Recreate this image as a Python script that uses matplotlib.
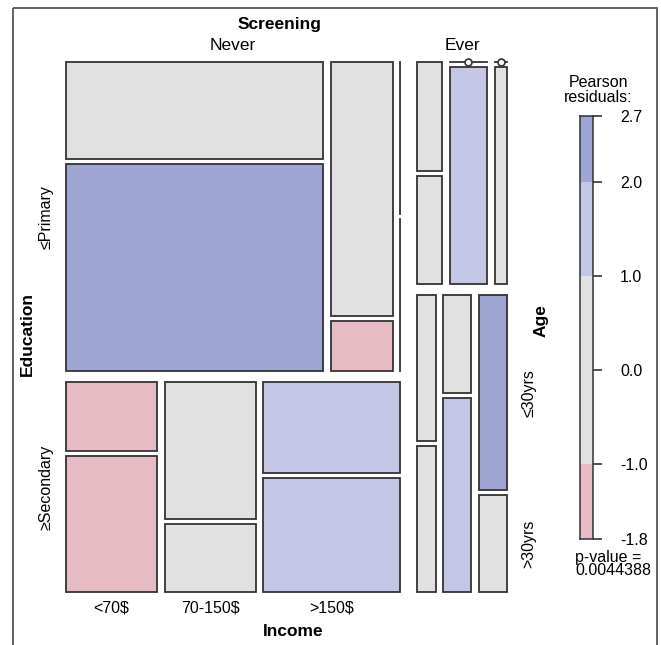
import numpy as np
import matplotlib.pyplot as plt
from matplotlib.patches import Rectangle

plt.rcParams['font.family'] = ['Liberation Sans', 'DejaVu Sans']

screening = ['Never', 'Ever']
education = ['≤Primary', '≥Secondary']
income = ['<70$', '70-150$', '>150$']
age = ['≤30yrs', '>30yrs']

# counts, rows = income, cols = age
never_primary = [[8, 17], [5, 1], [0, 0]]
never_secondary = [[2, 4], [4, 2], [4, 5]]
ever_primary = [[1, 1], [0, 3], [0, 1]]
ever_secondary = [[1, 1], [1, 2], [2, 1]]

# pearson residuals
res_never_primary = [[0.3, 2.7], [0.8, -1.8], [0.0, 0.0]]
res_never_secondary = [[-1.3, -1.5], [0.2, -0.4], [1.5, 1.4]]
res_ever_primary = [[-0.5, 0.3], [0.0, 1.6], [0.0, 0.6]]
res_ever_secondary = [[-0.6, 0.4], [-0.8, 1.3], [2.3, 0.1]]

legend_ticks = [-1.8, -1.0, 0.0, 1.0, 2.0, 2.7]
shade_cuts = [-1.8, -1.0, 1.0, 2.0, 2.7]
shade_colors = ['#E6BBC4', '#E1E1E1', '#C3C6E4', '#A0A6D3']
p_value = 0.0044388

counts = np.array([[never_primary, never_secondary], [ever_primary, ever_secondary]], float)
resid = np.array([[res_never_primary, res_never_secondary], [res_ever_primary, res_ever_secondary]])


def shade(r):
    for lo, hi, c in zip(shade_cuts[:-1], shade_cuts[1:], shade_colors):
        if r < hi:
            return c
    return shade_colors[-1]


def split(lo, hi, w, gap):
    w = np.asarray(w, float)
    avail = hi - lo - gap * (len(w) - 1)
    frac = w / w.sum() if w.sum() > 0 else np.full(len(w), 1 / len(w))
    sizes = frac * avail
    starts = lo + np.concatenate([[0], np.cumsum(sizes[:-1] + gap)])
    return list(zip(starts, starts + sizes))


W, H = 661, 645
fig = plt.figure(figsize=(W / 100, H / 100), dpi=100)
ax = fig.add_axes([0, 0, 1, 1])
ax.set_xlim(0, W)
ax.set_ylim(H, 0)
ax.axis('off')

# outer frame
ax.add_patch(Rectangle((13, 8), 644, 660, fill=False, ec='#555555', lw=1.3))

X0, X1, Y0, Y1 = 66, 507, 62, 592
edge = '#333333'
fs = 11.5

xs = split(X0, X1, counts.sum(axis=(1, 2, 3)), 17)
for i, (xa, xb) in enumerate(xs):
    ax.text((xa + xb) / 2, 46, screening[i], ha='center', va='center', fontsize=12.5)
    ys = split(Y0, Y1, counts[i].sum(axis=(1, 2)), 11)
    for j, (ya, yb) in enumerate(ys):
        if i == 0:
            ax.text(46, (ya + yb) / 2, education[j], rotation=90, ha='center', va='center', fontsize=fs)
        xk = split(xa, xb, counts[i, j].sum(axis=1), 7.5)
        for k, (ka, kb) in enumerate(xk):
            if i == 0 and j == 1:
                ax.text((ka + kb) / 2, 608, income[k], ha='center', va='center', fontsize=fs)
            yl = split(ya, yb, counts[i, j, k], 5)
            for l, (la, lb) in enumerate(yl):
                if i == 1 and j == 1 and k == 2:
                    ax.text(529, (la + lb) / 2, age[l], rotation=90, ha='center', va='center', fontsize=fs)
                if counts[i, j, k].sum() == 0:
                    ax.plot([ka, ka], [la, lb], color=edge, lw=1.3)
                elif counts[i, j, k, l] == 0:
                    ax.plot([ka, kb], [la, la], color=edge, lw=1.3)
                    ax.plot((ka + kb) / 2, la, 'o', ms=5, mfc='white', mec=edge, mew=1.2)
                else:
                    ax.add_patch(Rectangle((ka, la), kb - ka, lb - la, fc=shade(resid[i, j, k, l]),
                                           ec=edge, lw=1.3))

ax.text(280, 24, 'Screening', ha='center', va='center', fontsize=12.5, fontweight='bold')
ax.text(27, 334, 'Education', rotation=90, ha='center', va='center', fontsize=12.5, fontweight='bold')
ax.text(293, 632, 'Income', ha='center', va='center', fontsize=12.5, fontweight='bold')
ax.text(541, 321, 'Age', rotation=90, ha='center', va='center', fontsize=12.5, fontweight='bold')

# residual legend
lax = fig.add_axes([580 / W, 1 - 539 / H, 13 / W, 423 / H])
for lo, hi, c in zip(shade_cuts[:-1], shade_cuts[1:], shade_colors):
    lax.axhspan(lo, hi, color=c, lw=0)
lax.set_ylim(shade_cuts[0], shade_cuts[-1])
lax.set_xlim(0, 1)
lax.set_xticks([])
lax.yaxis.tick_right()
lax.set_yticks(legend_ticks)
lax.set_yticklabels(['%.1f' % t for t in legend_ticks], fontsize=fs)
lax.tick_params(axis='y', length=6.5, width=1.1, pad=13, color='#222222')
for s in lax.spines.values():
    s.set_linewidth(1.1)
    s.set_color('#333333')

ax.text(598, 90, 'Pearson\nresiduals:', ha='center', va='center', fontsize=fs, linespacing=0.95)
ax.text(575, 564, 'p-value =\n%.7f' % p_value, ha='left', va='center', fontsize=fs, linespacing=0.85)

fig.savefig('out.png', dpi=100)
